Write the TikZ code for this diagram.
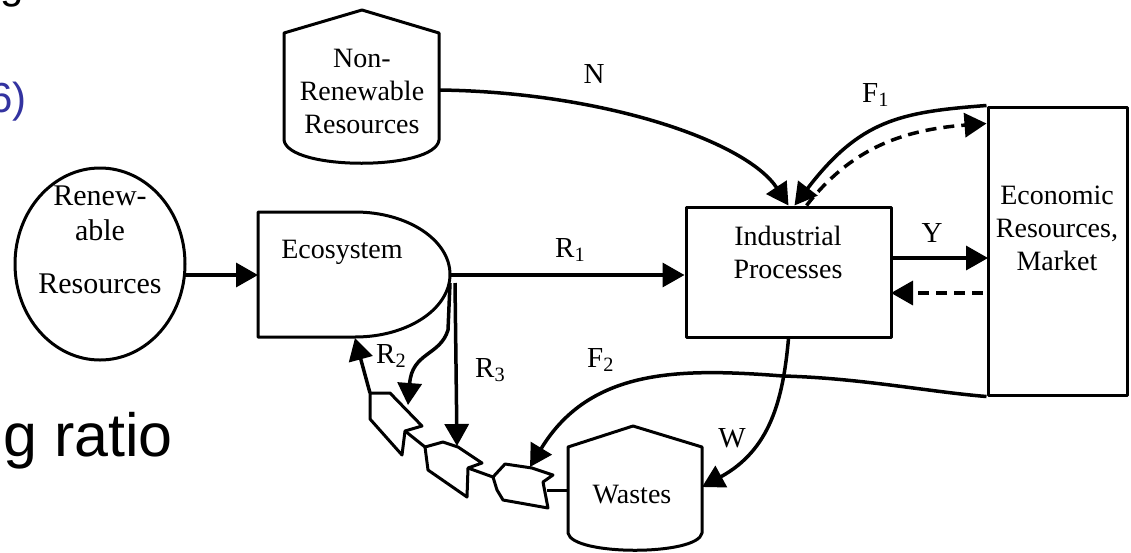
\documentclass[tikz,border=0pt]{standalone}
\usepackage{fontspec}
\setmainfont{Liberation Serif}
\newfontfamily\slidefont{Liberation Sans}
\usetikzlibrary{arrows.meta}
\definecolor{slideblue}{RGB}{51,51,160}

\begin{document}
\begin{tikzpicture}[x=1pt, y=-1pt, line join=round,
    outline/.style={line width=3pt},
    flow/.style={line width=3.5pt, -{Triangle[length=22pt,width=24pt]}},
    back/.style={flow, dash pattern=on 11pt off 7pt},
    box/.style={draw, line width=3pt, inner sep=0pt},
    txt/.style={align=center, inner sep=0pt, font=\fontsize{28}{33}\selectfont},
    lbl/.style={inner sep=0pt, font=\fontsize{29}{33}\selectfont}]

    % Fix the frame of the picture
    \useasboundingbox (0,0) rectangle (1131,552);
    \clip (0,0) rectangle (1131,552);

    % Bits of the slide text cut off at the left edge
    \node[anchor=base west, inner sep=0pt, font=\slidefont\fontsize{42}{50}\selectfont] (topline) at (0,-2) {g};
    \node[anchor=base east, inner sep=0pt, text=slideblue, font=\slidefont\fontsize{42}{50}\selectfont] (cite) at (27,112) {6)};
    \node[anchor=base west, inner sep=0pt, font=\slidefont\fontsize{61}{70}\selectfont] (ratio) at (3,456) {g ratio};

    % Renewable resources
    \draw[outline] (100,264) ellipse (85 and 96);
    \node[txt, font=\fontsize{30}{35}\selectfont] (renew) at (100,240) {Renew-\\able\\[18pt]Resources};
    \coordinate (RenE) at (185,275);

    % Non-renewable resources
    \draw[outline] (284,33) -- (362,10) -- (439,33) -- (439,140)
        .. controls (435,171) and (288,171) .. (284,140) -- cycle;
    \node[txt] (nonren) at (362,91) {Non-\\Renewable\\Resources};
    \coordinate (NonE) at (439,90);

    % Ecosystem
    \draw[outline] (355,212) -- (258,212) -- (258,337) -- (355,337)
        arc (90:-90:95 and 62.5) -- cycle;
    \node[txt, anchor=base] (eco) at (342,258) {Ecosystem};
    \coordinate (EcoW) at (258,275);
    \coordinate (EcoE) at (450,275);
    \coordinate (EcoR2) at (450,283);
    \coordinate (EcoR3) at (455,283);
    \coordinate (EcoS) at (355,338);

    % Industrial processes and the market
    \node[box, minimum width=205pt, minimum height=130pt] (ind) at (788.5,272) {};
    \node[txt] (indtext) at (788,252) {Industrial\\Processes};
    \node[box, minimum width=139pt, minimum height=288pt] (market) at (1057.5,251) {};
    \node[txt] (markettext) at (1057,228) {Economic\\Resources,\\Market};
    \coordinate (IndY) at (891,258);
    \coordinate (MarY) at (988,258);
    \coordinate (MarBack) at (983,293);
    \coordinate (IndBack) at (891,293);

    % Wastes
    \draw[outline] (568,447) -- (633,426) -- (702,447) -- (702,533)
        .. controls (698,556) and (572,556) .. (568,533) -- cycle;
    \node[txt, anchor=base] (wastes) at (632,503) {Wastes};
    \coordinate (WasE) at (702,487);
    \coordinate (WasW) at (568,490);

    % Recycling chain from the wastes back to the ecosystem
    \draw[outline, fill=white] (370,393) -- (390,393) -- (422,426) -- (405,431) -- (402,455) -- (370,419) -- cycle;
    \draw[outline, fill=white] (425,447) -- (443,442) -- (458,447) -- (482,463) -- (468,468) -- (467,497) -- (428,470) -- cycle;
    \draw[outline, fill=white] (493,477) -- (505,464) -- (532,468) -- (553,475) -- (543,482) -- (548,508) -- (503,500) -- (497,490) -- cycle;
    \coordinate (chainA) at (370,393);
    \coordinate (chainAin) at (408,405);
    \coordinate (chainB) at (457,446);
    \coordinate (chainC) at (530,467);
    \draw[outline] (WasW) -- (547,490);
    \draw[outline] (468,468) -- (493,477);
    \draw[outline] (405,431) -- (425,447);

    % Flows between the parts
    \draw[flow] (RenE) -- (EcoW);
    \draw[flow] (EcoE) -- (EcoE -| ind.west);
    \draw[flow] (NonE) .. controls (600,92) and (745,140) .. (ind.north);
    \draw[flow] (market.north west) .. controls (900,112) and (860,120) .. ([xshift=6pt]ind.north);
    \draw[back] ([xshift=18pt]ind.north) .. controls (850,150) and (900,130) .. ([yshift=-18pt]market.north west);
    \draw[flow] (IndY) -- (MarY);
    \draw[back] (MarBack) -- (IndBack);
    \draw[flow] (ind.south) .. controls (783,400) and (770,450) .. (WasE);
    \draw[flow] (market.south west) .. controls (930,392) and (860,378) .. (783,376)
        .. controls (680,368) and (590,368) .. (chainC);
    \draw[flow] (EcoR3) -- (chainB);
    \draw[flow] (EcoR2) -- (448,330) .. controls (440,356) and (412,352) .. (chainAin);
    \draw[flow] (chainA) -- (EcoS);

    % Labels of the flows
    \node[lbl, anchor=base] (labN) at (594,83) {N};
    \node[lbl, anchor=base west] (labF1) at (862,102) {F\textsubscript{1}};
    \node[lbl, anchor=base] (labY) at (932,242) {Y};
    \node[lbl, anchor=base west] (labR1) at (555,257) {R\textsubscript{1}};
    \node[lbl, anchor=base west] (labR2) at (376,363) {R\textsubscript{2}};
    \node[lbl, anchor=base west] (labR3) at (475,377) {R\textsubscript{3}};
    \node[lbl, anchor=base west] (labF2) at (587,367) {F\textsubscript{2}};
    \node[lbl, anchor=base] (labW) at (732,447) {W};

\end{tikzpicture}
\end{document}
